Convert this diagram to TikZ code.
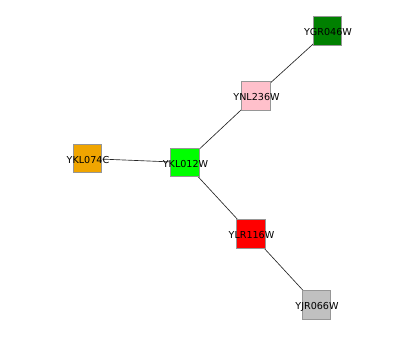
\documentclass[tikz,border=0pt]{standalone}
\usepackage{fontspec}
\setmainfont{DejaVu Sans}
\definecolor{cOrange}{RGB}{240,165,0}
\definecolor{cGreen}{RGB}{0,255,0}
\definecolor{cPink}{RGB}{255,192,203}
\definecolor{cDGreen}{RGB}{0,128,0}
\definecolor{cRed}{RGB}{255,0,0}
\definecolor{cGray}{RGB}{192,192,192}
\definecolor{cBorder}{RGB}{150,150,150}
\begin{document}
\begin{tikzpicture}[x=1pt,y=-1pt,
  gene/.style={draw=cBorder, line width=0.6pt, minimum size=28.5pt, inner sep=0pt},
  lbl/.style={font=\fontsize{9.6}{10}\selectfont, inner sep=0pt},
  edge/.style={draw=black!85, line width=0.65pt}]
\useasboundingbox (0,0) rectangle (416,337);
\coordinate (p1) at (87.5,158.5);
\coordinate (p2) at (185,162.5);
\coordinate (p3) at (256,96);
\coordinate (p4) at (327.5,31);
\coordinate (p5) at (251,234);
\coordinate (p6) at (316.5,305);
\draw[edge] (p1) -- (p2);
\draw[edge] (p2) -- (p3);
\draw[edge] (p3) -- (p4);
\draw[edge] (p2) -- (p5);
\draw[edge] (p5) -- (p6);
\node[gene, fill=cOrange] (n1) at (p1) {};
\node[gene, fill=cGreen] (n2) at (p2) {};
\node[gene, fill=cPink] (n3) at (p3) {};
\node[gene, fill=cDGreen] (n4) at (p4) {};
\node[gene, fill=cRed] (n5) at (p5) {};
\node[gene, fill=cGray] (n6) at (p6) {};
\node[lbl] (t1) at ([xshift=0.5pt,yshift=-1.5pt]n1.center) {YKL074C};
\node[lbl] (t2) at ([xshift=0.5pt,yshift=-1.5pt]n2.center) {YKL012W};
\node[lbl] (t3) at ([xshift=0.5pt,yshift=-1.5pt]n3.center) {YNL236W};
\node[lbl] (t4) at ([xshift=0.5pt,yshift=-1.5pt]n4.center) {YGR046W};
\node[lbl] (t5) at ([xshift=0.5pt,yshift=-1.5pt]n5.center) {YLR116W};
\node[lbl] (t6) at ([xshift=0.5pt,yshift=-1.5pt]n6.center) {YJR066W};
\end{tikzpicture}
\end{document}
